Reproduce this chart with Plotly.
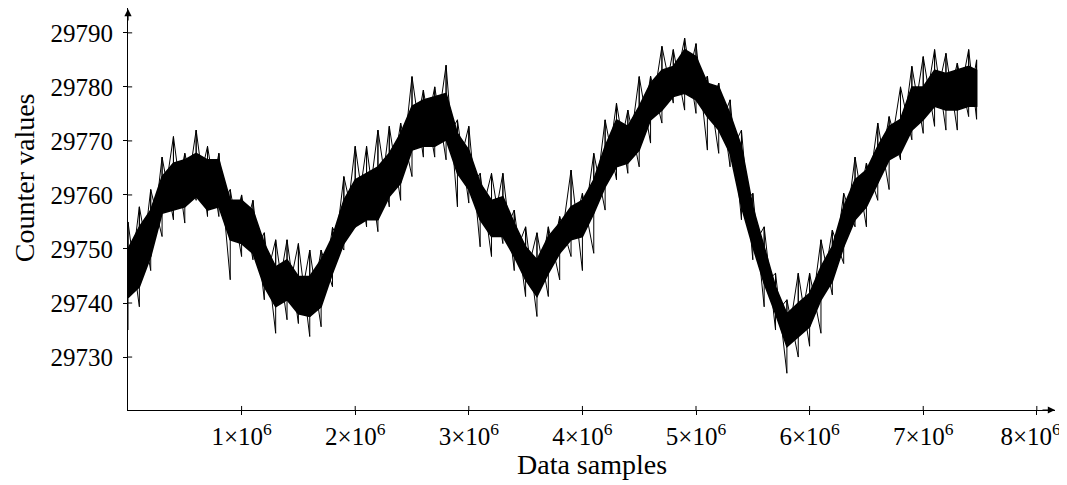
import plotly.graph_objects as go

# sample index (millions of samples)
samples_m = [0.0, 0.1, 0.2, 0.3, 0.4, 0.5, 0.6, 0.7, 0.8, 0.9,
             1.0, 1.1, 1.2, 1.3, 1.4, 1.5, 1.6, 1.7, 1.8, 1.9,
             2.0, 2.1, 2.2, 2.3, 2.4, 2.5, 2.6, 2.7, 2.8, 2.9,
             3.0, 3.1, 3.2, 3.3, 3.4, 3.5, 3.6, 3.7, 3.8, 3.9,
             4.0, 4.1, 4.2, 4.3, 4.4, 4.5, 4.6, 4.7, 4.8, 4.9,
             5.0, 5.1, 5.2, 5.3, 5.4, 5.5, 5.6, 5.7, 5.8, 5.9,
             6.0, 6.1, 6.2, 6.3, 6.4, 6.5, 6.6, 6.7, 6.8, 6.9,
             7.0, 7.1, 7.2, 7.3, 7.4, 7.47]

# dense part of the counter trace (upper / lower edge)
core_hi = [29750, 29754.1, 29757.2, 29763.4, 29765.9, 29766.5, 29767.7, 29766.5, 29766.5, 29759,
           29759, 29757.2, 29751, 29746.7, 29748, 29744.9, 29744.9, 29748, 29752.3, 29759,
           29762.8, 29764, 29765.2, 29767.7, 29771.4, 29776.4, 29777.6, 29778.2, 29778.8, 29771.4,
           29768.3, 29762.2, 29759, 29759.7, 29754.8, 29750.4, 29748, 29752.3, 29754.8, 29757.8,
           29759, 29762.8, 29769, 29773.9, 29772.7, 29776.4, 29780.7, 29783.1, 29783.8, 29786.9,
           29785.6, 29780.7, 29780, 29775, 29769, 29757.8, 29750.4, 29743, 29738, 29740,
           29741.8, 29746.7, 29750.5, 29757.8, 29762.8, 29764.6, 29769, 29772.7, 29774, 29780,
           29780, 29783.1, 29782.5, 29783.1, 29783.8, 29783.1]
core_lo = [29741, 29743, 29748.6, 29756.6, 29757.2, 29757.8, 29759.7, 29757.2, 29757.8, 29751.7,
           29751, 29749.2, 29743, 29739.3, 29740.6, 29738, 29737.5, 29739.3, 29745.5, 29751,
           29754.1, 29755.4, 29755.4, 29759.7, 29762.2, 29768.3, 29769, 29769, 29770.2, 29764,
           29761, 29755.4, 29752.3, 29752.3, 29748.6, 29744.3, 29741.2, 29745.5, 29749.2, 29751.7,
           29752.3, 29756.6, 29761.5, 29765.2, 29765.9, 29768.3, 29773.9, 29775.7, 29778.2, 29778.8,
           29777.6, 29774.5, 29772, 29767.7, 29757.8, 29750.4, 29743.6, 29738, 29731.9, 29733.8,
           29735.6, 29740.6, 29744, 29750.4, 29755.4, 29757.8, 29762.2, 29766.5, 29767.7, 29772,
           29773.9, 29776.4, 29775.7, 29775.7, 29776.4, 29776.4]

# outlying spikes (max / min)
peak = [29755, 29757.8, 29761, 29767, 29770.8, 29767.7, 29772, 29769, 29767.7, 29761,
        29760, 29759, 29753, 29751.7, 29751.7, 29751, 29749.8, 29749.8, 29754, 29763.4,
        29769, 29769, 29772, 29772.7, 29773.3, 29781.9, 29779.4, 29780, 29784, 29773.9,
        29772.7, 29764, 29764, 29764, 29757.2, 29754.1, 29753, 29754.1, 29756, 29764.6,
        29760.3, 29767.7, 29773.9, 29777, 29775.7, 29781.9, 29782, 29787.5, 29786.9, 29789,
        29788, 29782, 29780.7, 29777.6, 29772, 29760.3, 29754.1, 29745.5, 29740.6, 29745.5,
        29745.5, 29751.7, 29753.5, 29760.3, 29767, 29765.9, 29773.3, 29774.5, 29780, 29783.8,
        29785.6, 29786.9, 29786.2, 29784.4, 29786.9, 29785]
dip = [29735, 29739.3, 29746, 29752.3, 29755.4, 29754.8, 29759, 29756, 29756, 29744.3,
       29748.6, 29748, 29740.6, 29734.4, 29736.9, 29736.2, 29733.8, 29735.6, 29743, 29749.8,
       29754, 29754.1, 29753.2, 29757.8, 29759, 29763.4, 29767, 29767, 29766.5, 29757.8,
       29758.5, 29750.4, 29748.6, 29751, 29746, 29741.2, 29737.5, 29741.2, 29744.3, 29748.6,
       29746, 29749.2, 29757.2, 29762.8, 29764, 29765.2, 29769.6, 29773.3, 29777, 29775.7,
       29775.1, 29768.3, 29767.7, 29765.2, 29755.4, 29748, 29739.3, 29735, 29727, 29730,
       29732, 29734.4, 29741.5, 29747.3, 29754.1, 29754.1, 29759, 29761, 29766.5, 29770.2,
       29771.4, 29772.7, 29772, 29772, 29774.5, 29774]

y_ticks = [29730, 29740, 29750, 29760, 29770, 29780, 29790]
x_ticks = [1, 2, 3, 4, 5, 6, 7, 8]
x_ticktext = [f"{v}×10<sup>6</sup>" for v in x_ticks]
# last label sits at the page edge: pad it so it is nudged left
x_ticktext[-1] = x_ticktext[-1] + "\u00a0\u00a0"

xs = [v * 1e6 for v in samples_m]

fig = go.Figure()

# solid band
fig.add_trace(go.Scatter(
    x=xs + xs[::-1], y=core_hi + core_lo[::-1],
    fill="toself", fillcolor="black", mode="lines",
    line=dict(color="black", width=1.5), hoverinfo="skip"))

# spikes: zigzag dip -> peak -> next dip
sx, sy = [], []
for x, lo, hi in zip(xs, dip, peak):
    sx += [x, x]
    sy += [lo, hi]
fig.add_trace(go.Scatter(x=sx, y=sy, mode="lines",
                         line=dict(color="black", width=1), hoverinfo="skip"))

# second zigzag: peak -> core low
zx, zy = [], []
for x, lo, hi in zip(xs, core_lo, peak):
    zx += [x, x]
    zy += [hi, lo]
fig.add_trace(go.Scatter(x=zx, y=zy, mode="lines",
                         line=dict(color="black", width=1), hoverinfo="skip"))

font = "Liberation Serif, Times New Roman, serif"

# page body keeps the browser's 8px margin, so the figure is 8px smaller
fig.update_layout(
    width=1059, height=477,
    margin=dict(l=120, r=12, t=0, b=75, autoexpand=False),
    plot_bgcolor="white", paper_bgcolor="white",
    showlegend=False,
    font=dict(family=font, size=25, color="black"),
    xaxis=dict(range=[0, 8.16e6], tickvals=[v * 1e6 for v in x_ticks], ticktext=x_ticktext,
               showgrid=False, zeroline=False, showline=True, linecolor="black", linewidth=1.2,
               ticks="outside", ticklen=4, tickcolor="black", tickwidth=1, automargin=False,
               tickfont=dict(size=25), ticklabeloverflow="allow"),
    yaxis=dict(range=[29720.2, 29794.6], tickvals=y_ticks, tickformat="d",
               showgrid=False, zeroline=False, showline=True, linecolor="black", linewidth=1.2,
               ticks="outside", ticklen=4, tickcolor="black", tickwidth=1, automargin=False,
               tickfont=dict(size=25), ticklabelstandoff=5),
)

# inner half of the crossing tick marks
for v in y_ticks:
    fig.add_shape(type="line", xref="paper", yref="y", x0=0, x1=0.0045, y0=v, y1=v,
                  line=dict(color="black", width=1))
for v in x_ticks:
    fig.add_shape(type="line", xref="x", yref="paper", x0=v * 1e6, x1=v * 1e6, y0=0, y1=0.01,
                  line=dict(color="black", width=1))

# axis arrows
fig.add_annotation(xref="paper", yref="paper", x=1, y=0, ax=-14, ay=0, text="",
                   showarrow=True, arrowhead=2, arrowsize=1.2, arrowwidth=1.2, arrowcolor="black")
fig.add_annotation(xref="paper", yref="paper", x=0, y=1, ax=0, ay=14, text="",
                   showarrow=True, arrowhead=2, arrowsize=1.2, arrowwidth=1.2, arrowcolor="black")

# axis titles
fig.add_annotation(xref="paper", yref="paper", x=0.5, y=-0.136, text="Data samples",
                   showarrow=False, font=dict(size=28), yanchor="middle")
fig.add_annotation(xref="paper", yref="paper", x=-0.112, y=0.577, text="Counter values",
                   showarrow=False, font=dict(size=28), textangle=-90, xanchor="center")

fig.write_html("out.html")
